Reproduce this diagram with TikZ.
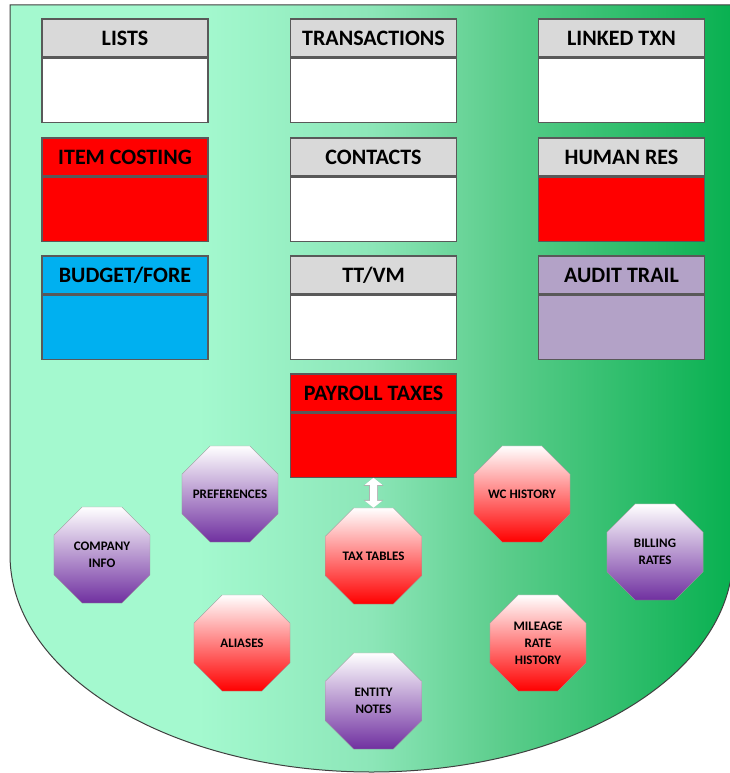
\documentclass[tikz,border=0pt]{standalone}
\usepackage{fontspec}
\setmainfont{Carlito}
\usetikzlibrary{positioning,shapes.geometric,arrows.meta}

\definecolor{hdgray}{HTML}{D9D9D9}
\definecolor{lnbox}{HTML}{595959}
\definecolor{skyb}{HTML}{00B0F0}
\definecolor{lilac}{HTML}{B3A2C7}
\definecolor{octpurple}{HTML}{7030A0}
\definecolor{mintA}{HTML}{A4F9CF}
\definecolor{mintB}{HTML}{8CE6B8}
\definecolor{greenA}{HTML}{5CCD8C}
\definecolor{greenB}{HTML}{08B050}

\pgfdeclarehorizontalshading{shieldshade}{100bp}{color(0bp)=(mintA); color(25bp)=(mintA); color(38bp)=(mintA); color(50bp)=(mintB); color(59bp)=(greenA); color(75bp)=(greenB); color(100bp)=(greenB)}

\begin{document}
\begin{tikzpicture}[x=1pt,y=-1pt,
  tblhead/.style={draw=lnbox,line width=1.2pt,minimum width=166pt,minimum height=38pt,inner sep=0pt,font=\fontsize{22}{24}\selectfont\bfseries},
  tblbody/.style={draw=lnbox,line width=1.2pt,minimum width=166pt,minimum height=64pt,inner sep=0pt,below=0pt of #1},
  octa/.style={regular polygon,regular polygon sides=8,minimum size=104pt,inner sep=0pt,draw=gray!80,top color=white,bottom color=#1,align=center,font=\fontsize{13}{17}\selectfont\bfseries},
  dlink/.style={white,line width=7pt,{Triangle[width=17pt,length=7pt]}-{Triangle[width=17pt,length=7pt]},
    preaction={draw=gray!60,line width=8.6pt,{Triangle[width=19.5pt,length=8pt]}-{Triangle[width=19.5pt,length=8pt]}}}]
\useasboundingbox (0,0) rectangle (730,773);
\shadedraw[shading=shieldshade,draw=black!75,line width=1pt] (10,5) -- (733,5) -- (733,555)
  arc[start angle=0,end angle=180,x radius=361.5,y radius=217] -- cycle;
% top row
\node[tblhead,fill=hdgray] (lists) at (125,38) {LISTS};
\node[tblbody=lists,fill=white] (listsb) {};
\node[tblhead,fill=hdgray] (trans) at (373.5,38) {TRANSACTIONS};
\node[tblbody=trans,fill=white] (transb) {};
\node[tblhead,fill=hdgray] (linked) at (621.5,38) {LINKED TXN};
\node[tblbody=linked,fill=white] (linkedb) {};
% second row
\node[tblhead,fill=red] (itemcost) at (125,157) {ITEM COSTING};
\node[tblbody=itemcost,fill=red] (itemcostb) {};
\node[tblhead,fill=hdgray] (contacts) at (373.5,157) {CONTACTS};
\node[tblbody=contacts,fill=white] (contactsb) {};
\node[tblhead,fill=hdgray] (humres) at (621.5,157) {HUMAN RES};
\node[tblbody=humres,fill=red] (humresb) {};
% third row
\node[tblhead,fill=skyb] (budget) at (125,275) {BUDGET/FORE};
\node[tblbody=budget,fill=skyb] (budgetb) {};
\node[tblhead,fill=hdgray] (ttvm) at (373.5,275) {TT/VM};
\node[tblbody=ttvm,fill=white] (ttvmb) {};
\node[tblhead,fill=lilac] (audit) at (621.5,275) {AUDIT TRAIL};
\node[tblbody=audit,fill=lilac] (auditb) {};
% payroll
\node[tblhead,fill=red] (payroll) at (373.5,393) {PAYROLL TAXES};
\node[tblbody=payroll,fill=red] (payrollb) {};
% octagons
\node[octa=octpurple] (company) at (102,555) {COMPANY\\INFO};
\node[octa=octpurple] (pref) at (230,494) {\makebox[0pt]{PREFERENCES}};
\node[octa=red] (taxtab) at (373.5,556) {TAX TABLES};
\node[octa=red] (wchist) at (522,494) {WC HISTORY};
\node[octa=octpurple] (billing) at (655,552) {BILLING\\RATES};
\node[octa=red] (aliases) at (242,643) {ALIASES};
\node[octa=red] (mileage) at (538,643) {MILEAGE\\RATE\\HISTORY};
\node[octa=octpurple] (entity) at (373.5,701) {ENTITY\\NOTES};
\draw[dlink] (payrollb.south) -- (taxtab.north);
\end{tikzpicture}
\end{document}
